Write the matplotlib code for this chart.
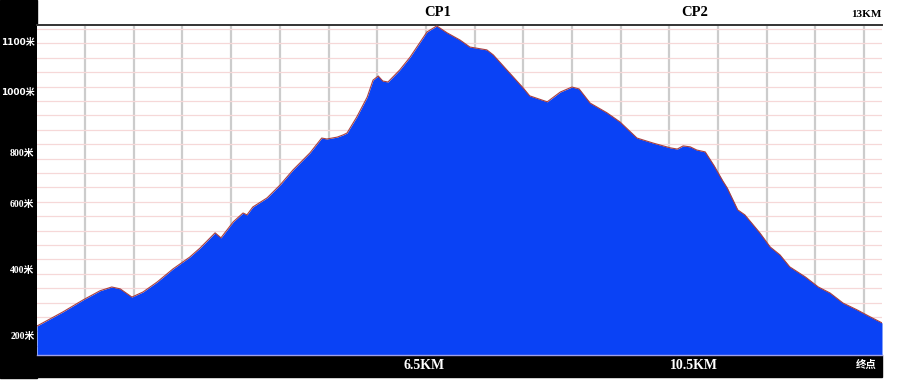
import matplotlib
matplotlib.use("Agg")
import matplotlib.pyplot as plt
import numpy as np
from matplotlib.patches import Rectangle

# elevation profile, distance in km, elevation in m
dist_km = [0, 0.40, 0.71, 0.97, 1.15, 1.28, 1.46, 1.63, 1.85, 2.09, 2.35, 2.51,
           2.74, 2.83, 3.02, 3.17, 3.23, 3.32, 3.54, 3.74, 3.94, 4.20, 4.38, 4.46,
           4.62, 4.71, 4.77, 4.92, 5.08, 5.17, 5.25, 5.32, 5.40, 5.58, 5.74, 6.00,
           6.15, 6.31, 6.51, 6.66, 6.92, 7.02, 7.23, 7.48, 7.58, 7.85, 8.05, 8.23,
           8.34, 8.51, 8.77, 8.97, 9.23, 9.48, 9.74, 9.85, 9.94, 10.05, 10.15, 10.28,
           10.42, 10.55, 10.62, 10.78, 10.89, 11.12, 11.28, 11.43, 11.58, 11.82, 12.02,
           12.20, 12.40, 12.62, 12.82, 13.00]
elev_m = [229, 274, 312, 341, 353, 347, 321, 337, 369, 410, 448, 477,
          525, 509, 560, 588, 582, 607, 636, 677, 725, 779, 826, 823,
          829, 836, 842, 893, 956, 1010, 1023, 1007, 1004, 1042, 1083, 1163,
          1182, 1160, 1137, 1115, 1106, 1090, 1042, 985, 960, 941, 972, 988,
          982, 937, 906, 877, 826, 810, 795, 791, 801, 798, 788, 782,
          737, 690, 667, 598, 582, 525, 480, 455, 417, 385, 353,
          334, 302, 280, 258, 239]

ytick_pos = [1131, 972, 778, 616, 404, 197]
ytick_labels = ["1100米", "1000米", "800米", "600米", "400米", "200米"]

top_labels = ["CP1", "CP2"]
top_label_km = [6.17, 10.12]
bottom_labels = ["6.5KM", "10.5KM"]
bottom_label_km = [5.95, 10.1]

fig = plt.figure(figsize=(9, 3.9), dpi=100)
fig.patch.set_facecolor("white")
# black bands on the left and along the bottom
fig.patches.append(Rectangle((0, 12 / 390), 37 / 900, 1 - 12 / 390,
                             transform=fig.transFigure, color="black", zorder=-1))
fig.patches.append(Rectangle((37 / 900, 13 / 390), 845 / 900, 22 / 390,
                             transform=fig.transFigure, color="black", zorder=-1))

ax = fig.add_axes([37 / 900, 35 / 390, 845 / 900, 330 / 390])
ax.set_xlim(0, 13)
ax.set_ylim(137, 1185)

for gx in np.arange(0.74, 13, 0.749):
    ax.axvline(gx, color="#cccccc", lw=1.6, zorder=1)
for gy in np.arange(1172, 137, -45.7):
    ax.axhline(gy, color="#f6d8d8", lw=0.9, zorder=1)

ax.fill_between(dist_km, elev_m, 137, color="#0a42f5", lw=0, zorder=2)
ax.plot(dist_km, elev_m, color="#a84040", lw=0.8, zorder=3)

for s in ["left", "right"]:
    ax.spines[s].set_visible(False)
ax.spines["top"].set_color("#333333")
ax.spines["top"].set_linewidth(1.4)
ax.spines["bottom"].set_color("#a0a0e6")
ax.spines["bottom"].set_linewidth(1.0)
ax.set_xticks([])
ax.set_yticks([])

for pos, lab in zip(ytick_pos, ytick_labels):
    if len(lab) > 4:
        fam, fs = ["DejaVu Sans", "Noto Sans CJK SC"], 6.5
    else:
        fam, fs = ["Liberation Serif", "Noto Sans CJK SC"], 7
    ax.text(-0.04, pos, lab, color="white", fontsize=fs, fontweight="bold",
            family=fam, ha="right", va="center", clip_on=False)

for k, lab in zip(top_label_km, top_labels):
    ax.text(k, 1185 + 40, lab, color="black", fontsize=10.5, fontweight="bold",
            family="Liberation Serif", ha="center", va="center", clip_on=False)
ax.text(13.0, 1185 + 34, "13KM", color="black", fontsize=8, fontweight="bold",
        family="Liberation Serif", ha="right", va="center", clip_on=False)

for k, lab in zip(bottom_label_km, bottom_labels):
    ax.text(k, 137 - 33, lab, color="white", fontsize=10, fontweight="bold",
            family="Liberation Serif", ha="center", va="center", clip_on=False)
ax.text(12.75, 137 - 33, "终点", color="white", fontsize=7.5, fontweight="bold",
        family=["Noto Sans CJK SC", "DejaVu Sans"], ha="center", va="center", clip_on=False)

fig.savefig("out.png", dpi=100)
